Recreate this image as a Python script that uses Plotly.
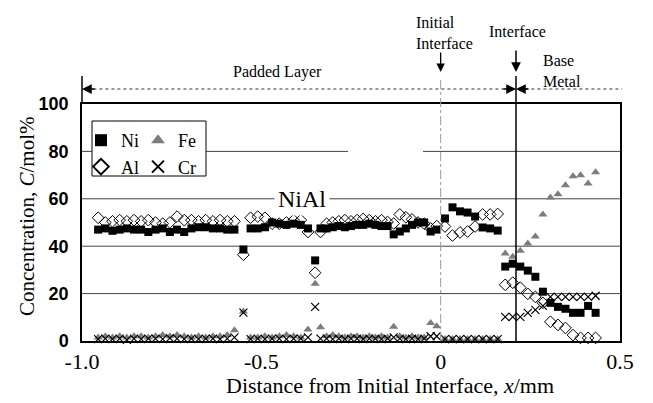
import plotly.graph_objects as go

# ---------------- data ----------------
x_mm = [
    -0.955, -0.935, -0.915, -0.895, -0.875, -0.855, -0.835, -0.815, -0.795, -0.775,
    -0.755, -0.735, -0.715, -0.695, -0.675, -0.655, -0.635, -0.615, -0.595, -0.575,
    -0.55,
    -0.53, -0.51, -0.49, -0.47, -0.45, -0.43, -0.41, -0.39, -0.37,
    -0.35,
    -0.335, -0.318, -0.301, -0.284, -0.267, -0.250, -0.233, -0.216, -0.199, -0.182,
    -0.165, -0.148, -0.131, -0.114, -0.097, -0.080, -0.063, -0.046, -0.028, -0.011,
    0.012, 0.033, 0.054, 0.075, 0.096, 0.117, 0.138, 0.159,
    0.180, 0.201, 0.222, 0.243, 0.264, 0.285, 0.306, 0.327, 0.348, 0.369, 0.390, 0.411, 0.432,
]

ni = [
    47.0, 47.5, 46.5, 47.0, 47.5, 47.0, 47.0, 46.0, 47.0, 47.5,
    46.0, 47.0, 46.0, 47.5, 48.0, 48.0, 47.5, 47.5, 47.0, 47.0,
    38.6,
    47.5, 47.5, 48.0, 50.0, 49.5, 49.0, 49.5, 49.0, 47.5,
    34.0,
    47.5, 47.5, 48.0, 48.5, 48.0, 48.5, 49.0, 49.0, 49.5, 49.0,
    48.5, 48.5, 45.0, 46.2, 47.5, 49.0, 50.0, 50.0, 46.2, 47.0,
    51.7, 56.4, 54.7, 54.2, 52.5, 47.9, 47.5, 46.6,
    31.4, 32.6, 31.4, 29.7, 27.1, 20.8, 16.1, 14.4, 13.6, 11.9, 11.9, 14.8, 11.9,
]

al = [
    52.0, 50.0, 50.5, 51.0, 50.5, 51.0, 50.5, 51.0, 50.0, 49.5,
    50.0, 52.5, 51.0, 51.0, 50.5, 51.0, 50.5, 51.0, 50.5, 50.5,
    36.4,
    52.0, 52.5, 52.0, 49.5, 49.5, 50.0, 51.0, 51.0, 46.0,
    28.8,
    46.0, 49.5, 50.0, 50.5, 51.0, 50.5, 51.0, 51.5, 51.0, 50.5,
    51.0, 50.2, 49.6, 53.4, 52.2, 51.3, 50.0, 49.5, 47.5, 48.5,
    48.3, 44.5, 45.8, 46.2, 48.3, 53.4, 53.4, 53.6,
    23.7, 24.6, 22.5, 19.9, 18.6, 16.1, 8.1, 6.8, 5.5, 2.5, 1.3, 1.3, 1.3,
]

fe = [
    1.5, 2.0, 1.5, 2.0, 1.5, 2.0, 2.0, 1.5, 2.0, 2.5,
    2.0, 2.5, 2.0, 1.5, 2.0, 1.5, 2.0, 2.0, 2.5, 4.5,
    12.5,
    1.5, 1.5, 2.0, 1.5, 2.0, 2.5, 2.0, 1.5, 4.8,
    24.2,
    5.8, 2.0, 2.5, 2.0, 1.5, 2.0, 2.0, 1.5, 2.0, 1.5,
    2.0, 1.5, 6.0, 2.0, 1.5, 2.0, 1.5, 1.5, 7.6, 6.2,
    0.8, 0.8, 0.8, 0.8, 0.8, 0.8, 0.8, 0.8,
    36.9, 35.6, 38.1, 41.1, 44.1, 53.4, 60.6, 61.9, 65.7, 69.5, 69.9, 66.5, 71.2,
]

cr = [
    0.8, 1.0, 0.8, 1.0, 0.5, 1.0, 0.8, 1.0, 1.0, 0.8,
    1.2, 1.0, 0.8, 1.0, 0.8, 1.0, 1.0, 0.8, 1.0, 1.5,
    12.0,
    0.8, 1.0, 0.8, 1.0, 1.0, 0.8, 1.0, 1.0, 1.5,
    14.4,
    1.0, 1.0, 0.8, 1.0, 0.8, 1.0, 1.0, 0.8, 1.0, 1.0,
    0.8, 1.0, 1.5, 1.0, 0.8, 1.0, 0.8, 1.0, 2.0, 2.0,
    0.8, 0.8, 0.8, 0.8, 0.8, 0.8, 0.8, 0.8,
    10.2, 10.2, 10.2, 11.9, 13.1, 14.8, 18.6, 18.6, 18.6, 18.6, 18.6, 18.6, 19.1,
]

x_ticks = [-1.0, -0.5, 0.0, 0.5]
x_tick_text = ["-1.0", "-0.5", "0", "0.5"]
y_ticks = [0, 20, 40, 60, 80, 100]

initial_interface_x = 0.0
interface_x = 0.21

# ---------------- figure ----------------
SERIF = "Liberation Serif, Times New Roman, serif"
SANS = "Liberation Sans, Arial, sans-serif"

fig = go.Figure()

fig.add_trace(go.Scatter(
    x=x_mm, y=al, mode="markers", name="Al", legend="legend", legendrank=2,
    marker=dict(symbol="diamond-open", size=9, color="black", line=dict(width=1)),
    cliponaxis=False))
fig.add_trace(go.Scatter(
    x=x_mm, y=fe, mode="markers", name="Fe", legend="legend2", legendrank=1,
    marker=dict(symbol="triangle-up", size=8, color="#7d7d7d"),
    cliponaxis=False))
fig.add_trace(go.Scatter(
    x=x_mm, y=cr, mode="markers", name="Cr", legend="legend2", legendrank=2,
    marker=dict(symbol="x-thin-open", size=8, color="black", line=dict(width=1.2, color="black")),
    cliponaxis=False))
fig.add_trace(go.Scatter(
    x=x_mm, y=ni, mode="markers", name="Ni", legend="legend", legendrank=1,
    marker=dict(symbol="square", size=8, color="black"),
    cliponaxis=False))

L, R, T, B = 82, 33, 104, 62
W, H = 653, 403
pw, ph = W - L - R, H - T - B


def px_to_paper_x(px):
    return (px - L) / pw


def py_to_paper_y(py):
    return (H - B - py) / ph


shapes = []
# horizontal grid lines (the 80 line has a break in the original)
for yv, segs in [(20, [(0, 1)]), (40, [(0, 1)]), (60, [(0, 1)]),
                 (80, [(0, px_to_paper_x(348)), (px_to_paper_x(423), 1)])]:
    for a, b in segs:
        shapes.append(dict(type="line", xref="paper", yref="y", x0=a, x1=b, y0=yv, y1=yv,
                           line=dict(color="#444", width=1), layer="below"))

top_ext = py_to_paper_y(76)
# left axis extension above plot
shapes.append(dict(type="line", xref="paper", yref="paper", x0=0, x1=0, y0=1, y1=top_ext,
                   line=dict(color="black", width=1.5)))
# interface line
shapes.append(dict(type="line", xref="x", yref="paper", x0=interface_x, x1=interface_x,
                   y0=0, y1=top_ext, line=dict(color="black", width=1.5)))
# initial interface line
shapes.append(dict(type="line", xref="x", yref="paper", x0=initial_interface_x, x1=initial_interface_x,
                   y0=0, y1=py_to_paper_y(78), line=dict(color="#999", width=1, dash="dashdot")))
# dotted region line
dot_y = py_to_paper_y(89)
shapes.append(dict(type="line", xref="paper", yref="paper", x0=0.01, x1=px_to_paper_x(622),
                   y0=dot_y, y1=dot_y, line=dict(color="#333", width=1.2, dash="dot")))

annotations = []
# arrowheads on region line
annotations.append(dict(xref="paper", yref="paper", x=0, y=dot_y, ax=14, ay=0, text="",
                        showarrow=True, arrowhead=2, arrowsize=1.3, arrowwidth=1.5, arrowcolor="black"))
annotations.append(dict(xref="x", yref="paper", x=interface_x, y=dot_y, ax=-14, ay=0, text="",
                        showarrow=True, arrowhead=2, arrowsize=1.3, arrowwidth=1.5, arrowcolor="black"))
annotations.append(dict(xref="x", yref="paper", x=interface_x, y=dot_y, ax=14, ay=0, text="",
                        showarrow=True, arrowhead=2, arrowsize=1.3, arrowwidth=1.5, arrowcolor="black"))
# down arrows
tip_y = py_to_paper_y(72)
annotations.append(dict(xref="x", yref="paper", x=initial_interface_x, y=tip_y, ax=0, ay=-21, text="",
                        showarrow=True, arrowhead=2, arrowsize=1.3, arrowwidth=1.3, arrowcolor="black"))
annotations.append(dict(xref="x", yref="paper", x=interface_x, y=tip_y, ax=0, ay=-23, text="",
                        showarrow=True, arrowhead=2, arrowsize=1.3, arrowwidth=1.5, arrowcolor="black"))

tf = dict(family=SERIF, size=16, color="black")
annotations.append(dict(xref="paper", yref="paper", x=px_to_paper_x(277), y=py_to_paper_y(72),
                        text="Padded Layer", showarrow=False, font=tf, xanchor="center", yanchor="middle"))
annotations.append(dict(xref="x", yref="paper", x=initial_interface_x, xshift=-27, y=py_to_paper_y(33),
                        text="Initial<br>Interface", showarrow=False, font=tf, align="left",
                        xanchor="left", yanchor="middle"))
annotations.append(dict(xref="x", yref="paper", x=interface_x, xshift=2, y=py_to_paper_y(32),
                        text="Interface", showarrow=False, font=tf, xanchor="center", yanchor="middle"))
annotations.append(dict(xref="x", yref="paper", x=interface_x, xshift=25, y=py_to_paper_y(71),
                        text="Base<br>Metal", showarrow=False, font=tf, align="left",
                        xanchor="left", yanchor="middle"))
annotations.append(dict(xref="paper", yref="y", x=px_to_paper_x(302), y=60, text="NiAl",
                        showarrow=False, font=dict(family=SERIF, size=24, color="black"),
                        bgcolor="white", borderpad=3, xanchor="center", yanchor="middle"))
# axis titles
annotations.append(dict(xref="paper", yref="paper", x=px_to_paper_x(27), y=py_to_paper_y(217),
                        text="Concentration, <i>C</i>/mol%", textangle=-90, showarrow=False,
                        font=dict(family=SERIF, size=21, color="black"),
                        xanchor="center", yanchor="middle"))
annotations.append(dict(xref="paper", yref="paper", x=px_to_paper_x(390), y=py_to_paper_y(385),
                        text="Distance from Initial Interface, <i>x</i>/mm", showarrow=False,
                        font=dict(family=SERIF, size=22, color="black"),
                        xanchor="center", yanchor="middle"))

# legend frame
shapes.append(dict(type="rect", xref="paper", yref="paper",
                   x0=px_to_paper_x(92), x1=px_to_paper_x(206),
                   y0=py_to_paper_y(176), y1=py_to_paper_y(121),
                   line=dict(color="black", width=1), fillcolor="white", layer="above"))

legend_font = dict(family=SERIF, size=18, color="black")
fig.update_layout(
    width=W, height=H,
    margin=dict(l=L, r=R, t=T, b=B, pad=0),
    paper_bgcolor="white", plot_bgcolor="white",
    showlegend=True,
    legend=dict(x=px_to_paper_x(81), y=py_to_paper_y(122), xanchor="left", yanchor="top",
                bgcolor="rgba(0,0,0,0)", borderwidth=0, font=legend_font, itemsizing="constant",
                tracegroupgap=0, itemwidth=30),
    legend2=dict(x=px_to_paper_x(138), y=py_to_paper_y(122), xanchor="left", yanchor="top",
                 bgcolor="rgba(0,0,0,0)", borderwidth=0, font=legend_font, itemsizing="constant",
                 tracegroupgap=0, itemwidth=30),
    xaxis=dict(range=[-1.0, 0.5], tickvals=x_ticks, ticktext=x_tick_text,
               showgrid=False, zeroline=False, showline=True, linecolor="black", linewidth=1.5,
               mirror=True, ticks="", tickfont=dict(family=SERIF, size=22, color="black")),
    yaxis=dict(range=[0, 100], tickvals=y_ticks, showgrid=False, zeroline=False,
               showline=True, linecolor="black", linewidth=1.5, mirror=True, ticks="",
               ticklabelstandoff=8,
               tickfont=dict(family=SANS, size=18, color="black", weight="bold")),
    shapes=shapes,
    annotations=annotations,
)

fig.write_html("out.html", config={"displayModeBar": False},
               post_script="document.body.style.margin='0px';")
